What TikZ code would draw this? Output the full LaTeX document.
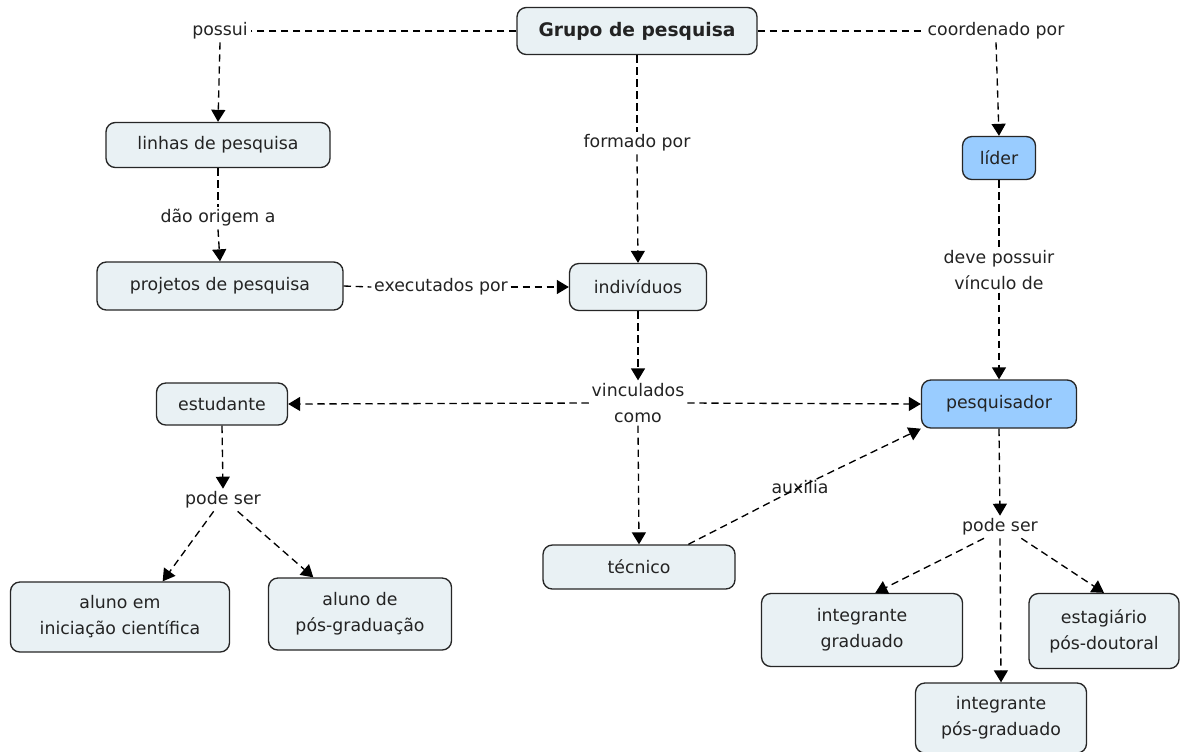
\documentclass[tikz,border=0pt]{standalone}
\usepackage{fontspec}
\setmainfont{DejaVu Sans}
\usetikzlibrary{arrows.meta,calc}
\definecolor{boxfill}{RGB}{233,241,244}
\definecolor{leadfill}{RGB}{153,204,255}
\definecolor{txt}{RGB}{35,35,35}
\begin{document}
\begin{tikzpicture}[x=0.75pt,y=-0.75pt,
  concept/.style={draw=black!85,line width=1pt,rounded corners=7pt,fill=boxfill,text=txt,
    font=\fontsize{13}{19.5}\selectfont,align=center,inner sep=0pt,minimum height=34pt},
  leadbox/.style={concept,fill=leadfill},
  phrase/.style={text=txt,font=\fontsize{13}{19.5}\selectfont,align=center,inner sep=2pt},
  link/.style={dash pattern=on 5.5pt off 3.5pt,line width=1pt,draw=black},
  arr/.style={link,-{Triangle[length=9pt,width=10.5pt]}}
]
\useasboundingbox (0,0) rectangle (1180,751);
\fill[white] (0,0) rectangle (1180,751);

% concepts
\node[concept,font=\fontsize{14}{19}\selectfont\bfseries,minimum width={240*0.75pt},minimum height={47*0.75pt}] (grupo) at (637,31) {Grupo de pesquisa};
\node[concept,minimum width={224*0.75pt},minimum height={45*0.75pt}] (linhas) at (218,145) {linhas de pesquisa};
\node[concept,minimum width={246*0.75pt},minimum height={48*0.75pt}] (projetos) at (220,286) {projetos de pesquisa};
\node[concept,minimum width={137*0.75pt},minimum height={47*0.75pt}] (indiv) at (638,287) {indivíduos};
\node[leadbox,minimum width={73*0.75pt},minimum height={43*0.75pt}] (lider) at (999,158) {líder};
\node[leadbox,minimum width={155*0.75pt},minimum height={48*0.75pt}] (pesq) at (999,404) {pesquisador};
\node[concept,minimum width={131*0.75pt},minimum height={42*0.75pt}] (estud) at (222,404) {estudante};
\node[concept,minimum width={219*0.75pt},minimum height={70*0.75pt}] (aic) at (120,617) {aluno em\\iniciação científica};
\node[concept,minimum width={183*0.75pt},minimum height={72*0.75pt}] (apg) at (360,614) {aluno de\\pós-graduação};
\node[concept,minimum width={192*0.75pt},minimum height={44*0.75pt}] (tecnico) at (639,567) {técnico};
\node[concept,minimum width={201*0.75pt},minimum height={73*0.75pt}] (ig) at (862,630) {integrante\\graduado};
\node[concept,minimum width={150*0.75pt},minimum height={75*0.75pt}] (ep) at (1104,631) {estagiário\\pós-doutoral};
\node[concept,minimum width={171*0.75pt},minimum height={70*0.75pt}] (ipg) at (1001,718) {integrante\\pós-graduado};

% linking phrases
\node[phrase] (possui) at (220,31) {possui};
\node[phrase] (formado) at (637,143) {formado por};
\node[phrase] (coord) at (996,31) {coordenado por};
\node[phrase] (dao) at (218,218) {dão origem a};
\node[phrase] (exec) at (441,287) {executados por};
\node[phrase] (deve) at (999,270) {deve possuir\\vínculo de};
\node[phrase] (vinc) at (638,403) {vinculados\\como};
\node[phrase] (podeL) at (223,500) {pode ser};
\node[phrase,inner sep=0pt] (aux) at (800,487) {auxilia};
\node[phrase] (podeR) at (1000,527) {pode ser};

% connectors
\draw[link] (grupo.west) -- (possui.east);
\draw[arr] (possui.south) -- (linhas.north);
\draw[link] (grupo.south) -- (formado.north);
\draw[arr] (formado.south) -- (indiv.north);
\draw[link] (grupo.east) -- (coord.west);
\draw[arr] (coord.south) -- (lider.north);
\draw[link] (linhas.south) -- (dao.north);
\draw[arr] (dao.south) -- (projetos.north);
\draw[link] (projetos.east) -- (exec.west);
\draw[arr] (exec.east) -- (indiv.west);
\draw[link] (lider.south) -- (deve.north);
\draw[arr] (deve.south) -- (pesq.north);
\draw[arr] (indiv.south) -- (vinc.north);
\draw[arr] (vinc.west) -- (estud.east);
\draw[arr] (vinc.east) -- (pesq.west);
\draw[arr] (vinc.south) -- (tecnico.north);
\draw[arr] (estud.south) -- (podeL.north);
\draw[arr] ([xshift=-7pt]podeL.south) -- ([xshift=32pt]aic.north);
\draw[arr] ([xshift=11pt]podeL.south) -- ([xshift=-35pt]apg.north);
\draw[arr] ([xshift=37pt]tecnico.north) -- (aux.center) -- (pesq.south west);
\draw[arr] (pesq.south) -- (podeR.north);
\draw[arr] ([xshift=-12pt]podeR.south) -- ([xshift=10pt]ig.north);
\draw[arr] (podeR.south) -- (ipg.north);
\draw[arr] ([xshift=16pt]podeR.south) -- (ep.north);
\end{tikzpicture}
\end{document}
